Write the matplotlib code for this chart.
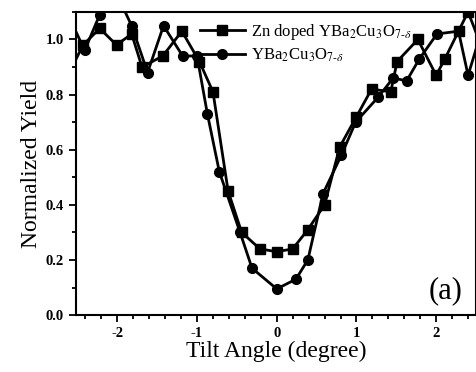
import numpy as np
import matplotlib
matplotlib.use("Agg")
import matplotlib.pyplot as plt
from matplotlib.ticker import MultipleLocator

plt.rcParams['font.family'] = ['Liberation Serif', 'DejaVu Serif']
plt.rcParams['mathtext.fontset'] = 'stix'

# Zn doped YBa2Cu3O7-d (squares)
x_zn = [-2.6, -2.43, -2.22, -2.01, -1.82, -1.69, -1.43, -1.19, -0.97, -0.80, -0.61,
        -0.44, -0.21, 0.0, 0.20, 0.39, 0.60, 0.79, 1.0, 1.19, 1.43, 1.51, 1.77,
        2.0, 2.11, 2.28, 2.40, 2.6]
y_zn = [0.88, 0.98, 1.04, 0.98, 1.02, 0.90, 0.94, 1.03, 0.92, 0.81, 0.45,
        0.30, 0.24, 0.23, 0.24, 0.31, 0.40, 0.61, 0.72, 0.82, 0.81, 0.92, 1.00,
        0.87, 0.93, 1.03, 1.10, 0.95]

# pure YBa2Cu3O7-d (circles)
x_yb = [-2.6, -2.41, -2.22, -2.0, -1.82, -1.62, -1.42, -1.18, -1.0, -0.87, -0.72,
        -0.46, -0.31, 0.0, 0.24, 0.39, 0.58, 0.81, 0.99, 1.27, 1.46, 1.63, 1.79,
        2.01, 2.28, 2.40, 2.6]
y_yb = [1.08, 0.96, 1.09, 1.16, 1.05, 0.88, 1.05, 0.94, 0.94, 0.73, 0.52,
        0.30, 0.17, 0.095, 0.13, 0.20, 0.44, 0.58, 0.70, 0.79, 0.86, 0.85, 0.93,
        1.02, 1.03, 0.87, 1.06]

fig = plt.figure(figsize=(4.77, 3.72), dpi=100)
ax = fig.add_axes([0.159, 0.153, 0.839, 0.815])

ax.plot(x_zn, y_zn, 'k-s', lw=2, ms=6.5, label=r'Zn doped YBa$_2$Cu$_3$O$_{7\text{-}\delta}$')
ax.plot(x_yb, y_yb, 'k-o', lw=2, ms=7, label=r'YBa$_2$Cu$_3$O$_{7\text{-}\delta}$')

ax.set_xlim(-2.52, 2.5)
ax.set_ylim(0, 1.1)
ax.xaxis.set_minor_locator(MultipleLocator(0.2))
ax.yaxis.set_major_locator(MultipleLocator(0.2))
ax.yaxis.set_minor_locator(MultipleLocator(0.1))
ax.set_xticks([-2, -1, 0, 1, 2])
ax.set_xticklabels(['-2', '-1', '0', '1', '2'])
ax.tick_params(which='both', direction='out', top=False, right=False, width=1.3)
ax.tick_params(which='major', length=5, labelsize=10.5)
ax.tick_params(which='minor', length=3)
for lab in ax.get_xticklabels() + ax.get_yticklabels():
    lab.set_fontweight('bold')
for s in ax.spines.values():
    s.set_linewidth(1.5)

ax.set_xlabel('Tilt Angle (degree)', fontsize=17, labelpad=1)
ax.set_ylabel('Normalized Yield', fontsize=17, labelpad=3)

leg = ax.legend(loc='upper left', bbox_to_anchor=(0.285, 1.0), frameon=False,
                fontsize=12, handlelength=2.7, handletextpad=0.35,
                labelspacing=0.3, borderaxespad=0.2)

ax.text(0.965, 0.08, '(a)', transform=ax.transAxes, fontsize=22,
        ha='right', va='center')

fig.savefig('out.png', dpi=100)
